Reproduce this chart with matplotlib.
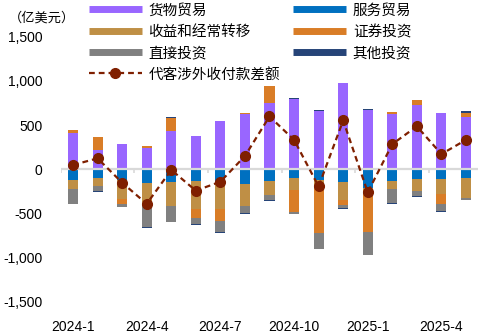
import matplotlib
matplotlib.use("Agg")
import matplotlib.pyplot as plt
import numpy as np
from matplotlib.lines import Line2D
from matplotlib.ticker import FuncFormatter

plt.rcParams['font.family'] = ['Liberation Sans', 'Noto Sans CJK SC']
plt.rcParams['axes.unicode_minus'] = False

months = ['2024-1', '2024-2', '2024-3', '2024-4', '2024-5', '2024-6', '2024-7', '2024-8',
          '2024-9', '2024-10', '2024-11', '2024-12', '2025-1', '2025-2', '2025-3', '2025-4', '2025-5']
goods = [414, 216, 280, 235, 429, 373, 541, 620, 746, 795, 664, 978, 675, 620, 724, 631, 589]
services = [-120, -97, -127, -153, -142, -131, -142, -172, -131, -97, -120, -150, -210, -131, -108, -108, -97]
income = [-100, -90, -216, -254, -280, -314, -314, -239, -157, -134, -60, -200, -30, -90, -134, -168, -224]
portfolio = [25, 146, -52, 26, 146, -112, -134, 15, 198, -254, -540, -52, -473, 22, 64, -123, 52]
direct = [-175, -64, -34, -246, -175, -64, -116, -90, -56, -26, -179, -34, -261, -157, -64, -75, -30]
other = [5, -12, 3, -12, 11, -11, -11, -11, -15, 11, 11, -11, 11, -11, -11, -11, 22]
balance = [48, 123, -153, -392, -8, -243, -142, 149, 597, 332, -195, 552, -262, 284, 485, 171, 332]

series_names = ['货物贸易', '服务贸易', '收益和经常转移', '证券投资', '直接投资', '其他投资']
series_vals = [goods, services, income, portfolio, direct, other]
colors = ['#9966FF', '#0070C0', '#BF8F45', '#D97D27', '#808080', '#264478']
line_name = '代客涉外收付款差额'
tick_labels = ['2024-1', '2024-4', '2024-7', '2024-10', '2025-1', '2025-4']

fig = plt.figure(figsize=(4.85, 3.36), dpi=100)
ax = fig.add_axes([60.75 / 485, 1 - 301.7 / 336, (478.25 - 60.75) / 485, (301.7 - 36.7) / 336])

x = np.arange(len(months))
pos_base = np.zeros(len(months))
neg_base = np.zeros(len(months))
for name, vals, c in zip(series_names, series_vals, colors):
    v = np.array(vals, dtype=float)
    bottom = np.where(v >= 0, pos_base, neg_base)
    ax.bar(x, v, width=0.41, bottom=bottom, color=c, zorder=2, linewidth=0)
    pos_base = pos_base + np.where(v >= 0, v, 0)
    neg_base = neg_base + np.where(v < 0, v, 0)

ax.axhline(0, color='#D9D9D9', lw=1.6, zorder=3)
bounds = np.arange(-0.5, len(months), 3)
ax.vlines(bounds, -45, 0, color='#D9D9D9', lw=1.2, zorder=3)

ax.plot(x, balance, color='#7F1F00', lw=1.6, linestyle=(0, (2.6, 1.8)),
        marker='o', markersize=7, markerfacecolor='#7F1F00', markeredgecolor='#7F1F00', zorder=4)

ax.set_xlim(-0.5, len(months) - 0.5)
ax.set_ylim(-1500, 1500)
ax.set_yticks(np.arange(-1500, 1501, 500))
ax.yaxis.set_major_formatter(FuncFormatter(lambda v, p: f'{int(v):,}'))
tick_pos = [months.index(t) for t in tick_labels]
ax.set_xticks(tick_pos)
ax.set_xticklabels(tick_labels)
ax.tick_params(axis='both', length=0, labelsize=10, colors='#000000')
ax.tick_params(axis='y', pad=13)
ax.tick_params(axis='x', pad=13)
for s in ax.spines.values():
    s.set_visible(False)

fig.text(9 / 485, 1 - 18 / 336, '（亿美元）', fontsize=9.5, va='center', ha='left',
         family=['Noto Sans CJK SC'])

h = {}
for name, c in zip(series_names, colors):
    h[name] = Line2D([0], [0], color=c, lw=5, solid_capstyle='butt')
h[line_name] = Line2D([0], [0], color='#7F1F00', lw=1.6, linestyle=(0, (2.6, 1.8)),
                      marker='o', markersize=7)
order = ['货物贸易', '收益和经常转移', '直接投资', line_name, '服务贸易', '证券投资', '其他投资']
leg = fig.legend([h[k] for k in order], order, loc='upper left',
                 bbox_to_anchor=(89 / 485, 1 - 3.5 / 336), ncol=2, frameon=False,
                 handlelength=3.6, handletextpad=0.48, columnspacing=0.9,
                 labelspacing=0.5, borderpad=0, borderaxespad=0,
                 prop={'family': ['Noto Sans CJK SC'], 'size': 10.5})

fig.savefig('out.png', dpi=100)
